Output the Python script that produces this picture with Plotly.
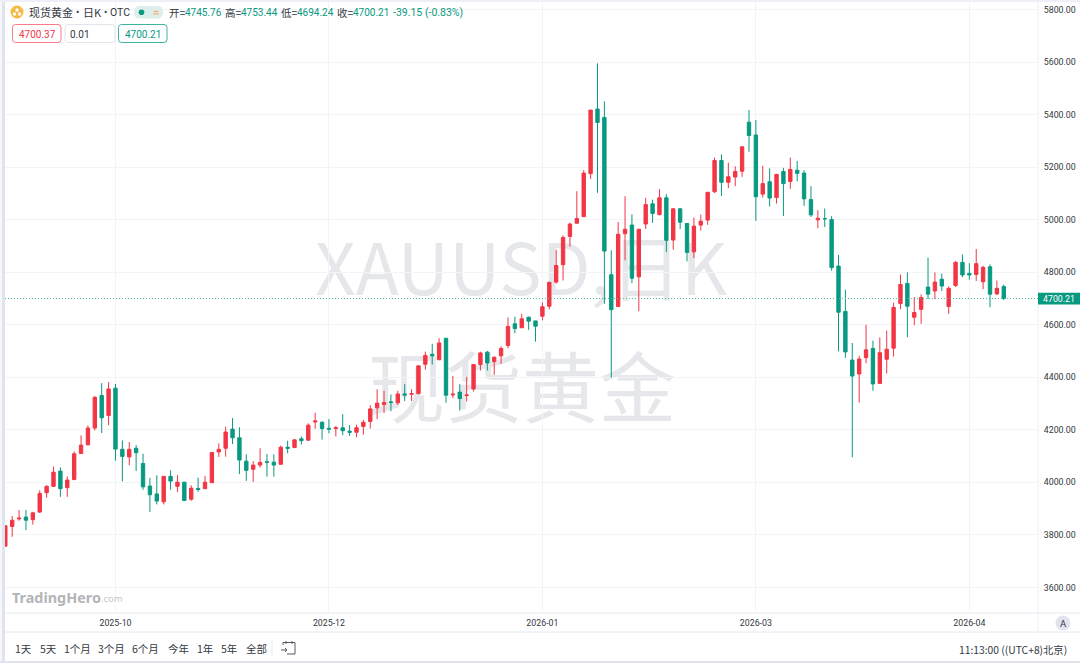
import plotly.graph_objects as go

W, H = 1080, 663

opens = [3757,3832,3861,3868,3858,3887,3961,3985,4043,3980,4011,4110,4143,4207,4331,4255,4359,4126,4097,4130,
         4072,3986,3956,3926,4023,3985,4001,3936,3977,3976,3999,4116,4130,4203,4170,4081,4050,4066,4079,4077,
         4069,4134,4133,4166,4161,4230,4229,4206,4205,4208,4195,4191,4213,4232,4284,4297,4307,4303,4337,4336,
         4338,4450,4488,4467,4549,4333,4344,4331,4356,4449,4496,4460,4482,4521,4604,4589,4629,4615,4633,4671,
         4763,4829,4937,4987,5012,5176,5422,5390,4791,4670,4947,4980,4783,4984,5061,5020,5084,4923,5042,4986,
         4878,4980,4999,5107,5226,5143,5163,5185,5372,5323,5098,5145,5085,5184,5146,5189,5178,5077,5000,5005,
         5001,4824,4651,4466,4413,4475,4510,4377,4469,4511,4681,4758,4629,4659,4744,4729,4774,4670,4750,4838,
         4796,4792,4764,4821,4718,4745.76]
closes = [3835,3856,3864,3856,3884,3958,3985,4039,3976,4009,4109,4142,4207,4324,4246,4356,4127,4099,4126,4113,
          3983,3953,3929,4023,4005,4001,3931,3978,3973,4001,4114,4126,4192,4170,4085,4046,4066,4076,4077,4066,
          4134,4130,4162,4159,4218,4234,4205,4203,4208,4197,4191,4208,4229,4280,4302,4304,4304,4337,4333,4338,
          4444,4484,4482,4531,4332,4336,4319,4333,4449,4493,4455,4477,4510,4594,4586,4623,4614,4595,4669,4762,
          4826,4933,4984,5005,5178,5418,5371,4881,4658,4945,4964,4778,4964,5058,5024,5084,4922,5042,4991,4876,
          4976,4995,5105,5226,5143,5164,5184,5278,5321,5088,5138,5083,5173,5138,5192,5177,5080,5019,5006,5004,
          4818,4648,4497,4405,4470,4505,4375,4494,4507,4666,4754,4671,4647,4704,4717,4763,4748,4739,4838,4790,
          4790,4833,4819,4717,4739,4700.21]
highs = [3835,3872,3895,3895,3888,3970,3989,4060,4057,4023,4118,4179,4217,4329,4378,4382,4375,4160,4154,4142,
         4109,4017,4027,4023,4046,4028,4001,3989,4018,4025,4114,4149,4212,4245,4210,4107,4081,4130,4108,4107,
         4140,4159,4164,4175,4225,4265,4233,4241,4215,4260,4218,4220,4238,4294,4355,4349,4335,4349,4374,4355,
         4444,4498,4528,4549,4549,4406,4374,4402,4449,4498,4501,4479,4518,4628,4631,4642,4632,4615,4686,4764,
         4886,4941,4989,5109,5189,5418,5596,5451,4884,4992,5090,5021,4966,5084,5077,5117,5098,5044,5044,4988,
         5009,5020,5105,5237,5249,5218,5204,5281,5418,5380,5206,5196,5175,5198,5237,5224,5189,5128,5037,5043,
         5014,4866,4734,4531,4482,4600,4540,4552,4578,4685,4792,4800,4706,4716,4856,4800,4795,4746,4843,4868,
         4835,4889,4825,4830,4769,4753.44]
lows = [3757,3793,3854,3818,3839,3884,3942,3982,3945,3945,4008,4109,4141,4198,4188,4218,4083,4004,4065,4043,
        3972,3887,3916,3916,3972,3963,3931,3930,3964,3976,3999,4097,4098,4146,4032,4006,4002,4056,4022,4022,
        4069,4111,4130,4144,4158,4204,4163,4187,4175,4180,4177,4172,4182,4205,4241,4264,4271,4295,4310,4310,
        4336,4429,4449,4467,4303,4321,4274,4308,4346,4426,4426,4410,4451,4511,4568,4589,4581,4536,4617,4659,
        4757,4769,4898,4987,5011,5156,5103,4680,4399,4670,4846,4759,4652,4965,4988,5017,4877,4886,4965,4842,
        4854,4959,4981,5102,5091,5121,5128,5164,5259,4996,5085,5051,5062,5015,5118,5147,5053,5011,4968,4973,
        4806,4499,4474,4095,4304,4454,4349,4375,4415,4479,4660,4553,4599,4604,4698,4698,4729,4642,4744,4782,
        4772,4767,4736,4667,4713,4694.24]
candle_index = list(range(len(opens)))

price_ticks = [3600, 3800, 4000, 4200, 4400, 4600, 4800, 5000, 5200, 5400, 5600, 5800]
time_tick_index = [16, 47, 78, 109, 140]
time_tick_labels = ["2025-10", "2025-12", "2026-01", "2026-03", "2026-04"]
range_buttons = ["1天", "5天", "1个月", "3个月", "6个月", "今年", "1年", "5年", "全部"]
range_button_x = [23, 48, 77, 111, 145, 178, 205, 229, 256]

RED, GREEN, GREY = "#f23645", "#089981", "#e1e4ef"
TXT = "#333842"
FONT = "Roboto, Noto Sans, Noto Sans CJK SC, sans-serif"
CJK = "Noto Sans CJK SC, Noto Sans, sans-serif"

PL, PR, PB = 5, 1038, 613
SPACING = 6.886
fx = lambda x: x / W
fy = lambda y: 1 - y / H
P = lambda x, y: f"{fx(x):.5f} {fy(y):.5f}"


def rrect(x0, y0, x1, y1, r):
    return (f"M {P(x0+r,y0)} L {P(x1-r,y0)} Q {P(x1,y0)} {P(x1,y0+r)} L {P(x1,y1-r)} Q {P(x1,y1)} {P(x1-r,y1)} "
            f"L {P(x0+r,y1)} Q {P(x0,y1)} {P(x0,y1-r)} L {P(x0,y0+r)} Q {P(x0,y0)} {P(x0+r,y0)} Z")


shapes, annotations = [], []


def rect(x0, y0, x1, y1, fill, layer="above"):
    shapes.append(dict(type="rect", xref="paper", yref="paper", x0=fx(x0), x1=fx(x1), y0=fy(y1), y1=fy(y0),
                       fillcolor=fill, line_width=0, layer=layer))


def path(d, fill="rgba(0,0,0,0)", line="rgba(0,0,0,0)", lw=1):
    shapes.append(dict(type="path", xref="paper", yref="paper", path=d, fillcolor=fill,
                       line=dict(color=line, width=lw), layer="above"))


def hline(x0, y0, x1, y1, color, lw=1):
    shapes.append(dict(type="line", xref="paper", yref="paper", x0=fx(x0), x1=fx(x1), y0=fy(y0), y1=fy(y1),
                       line=dict(color=color, width=lw), layer="above"))


def circle(cx, cy, r, fill):
    shapes.append(dict(type="circle", xref="paper", yref="paper", x0=fx(cx - r), x1=fx(cx + r), y0=fy(cy + r),
                       y1=fy(cy - r), fillcolor=fill, line_width=0, layer="above"))


def text(x, y, s, size=11, color=TXT, anchor="left", font=CJK):
    annotations.append(dict(xref="paper", yref="paper", x=fx(x), y=fy(y), text=s, showarrow=False, xanchor=anchor,
                            yanchor="middle", borderpad=0, borderwidth=0,
                            font=dict(size=size, color=color, family=font)))


def watermark(cx, cy, s, size):
    shapes.append(dict(type="rect", xref="paper", yref="paper", x0=fx(cx - 300), x1=fx(cx + 300),
                       y0=fy(cy + 50), y1=fy(cy - 50), line_width=0, fillcolor="rgba(0,0,0,0)", layer="below",
                       label=dict(text=s, textposition="middle center",
                                  font=dict(size=size, color="#e6e7ea", family=CJK))))


# watermark behind the candles
watermark(521, 275, "XAUUSD,日K", 71)
watermark(522, 395, "现货黄金", 77)

# frame
rect(0, 0, 2, H, "#f6f7fb")
rect(2, 0, 5, H, GREY)
rect(0, 0, W, 2, "#eef0f7")
rect(0, 661, W, H, GREY)
hline(PR, 0, PR, 632, "#eceef4")
hline(5, PB, W, PB, "#e6e8f0")
hline(5, 632, W, 632, "#e6e8f0")
hline(272, 640, 272, 656, "#e6e8f0")

# header
circle(17, 12, 6.5, "#f4b942")
circle(14.5, 14, 1.7, "white")
circle(19.5, 14, 1.7, "white")
circle(17, 10, 1.7, "white")
text(29, 12, "现货黄金", 11)
text(77, 12, "•", 10, TXT, "center", FONT)
text(83, 12, "日K", 11)
text(105, 12, "•", 10, TXT, "center", FONT)
text(110, 12, "OTC", 10.5, TXT, "left", FONT)
path(rrect(134, 6, 163, 18.5, 6), fill="#dcefed")
circle(141.5, 12.3, 2.8, GREEN)
text(155.5, 12, "≈", 11, "#f7a35c", "center", FONT)
for lx, vx, lab, val in [(169, 185, "开=", "4745.76"), (225, 241, "高=", "4753.44"),
                         (281, 297, "低=", "4694.24"), (337, 353, "收=", "4700.21")]:
    text(lx, 12, lab, 10.5)
    text(vx, 12, val, 10, GREEN, "left", FONT)
text(393, 12, "-39.15 (-0.83%)", 10.5, GREEN, "left", FONT)
path(rrect(12.5, 24.5, 61, 42.5, 3), fill="white", line="#f77c86")
path(rrect(65, 24.5, 115, 42.5, 3), fill="white", line="#e3e5ea")
path(rrect(118.5, 24.5, 167, 42.5, 3), fill="white", line="#3fb3a2")
text(37, 34, "4700.37", 10, RED, "center", FONT)
text(70, 34.5, "0.01", 10, TXT, "left", FONT)
text(143, 34, "4700.21", 10, GREEN, "center", FONT)

# logo
text(12, 597, "<b>TradingHero</b>", 14.4, "#b3b5b8", "left", "Noto Sans, sans-serif")
text(101, 598.5, ".com", 9.5, "#c5c7ca", "left", "Noto Sans, sans-serif")

# last price line + tag
shapes.append(dict(type="line", xref="paper", yref="y", x0=fx(PL), x1=fx(PR), y0=closes[-1], y1=closes[-1],
                   line=dict(color="#4fb8a8", width=1, dash="1px,2px"), layer="above"))
rect(PR, 292.7, W, 304.5, GREEN)
annotations.append(dict(xref="paper", yref="y", x=fx(1059), y=closes[-1], text=f"{closes[-1]:.2f}", showarrow=False,
                        xanchor="center", yanchor="middle", font=dict(size=8.8, color="white", family=FONT)))

# bottom bars
for label, x in zip(range_buttons, range_button_x):
    text(x, 648, label, 10.5, TXT, "center")
path(f"M {P(283,645)} L {P(283,642.5)} L {P(295,642.5)} L {P(295,654)} L {P(287,654)} "
     f"M {P(286,641)} L {P(286,644)} M {P(292,641)} L {P(292,644)} M {P(281,650)} L {P(287,650)} "
     f"M {P(285,648)} L {P(287,650)} L {P(285,652)}", line="#555a66", lw=1)
text(1067, 649, "11:13:00 ((UTC+8)北京)", 10.3, TXT, "right")
circle(1063, 623, 7.5, GREY)
text(1063, 623, "A", 9.5, TXT, "center", FONT)

# axis ranges from the pixel layout of the reference
x_lo = (PL - 5.3) / SPACING
x_hi = (PR - 5.3) / SPACING
y_hi = 4000 + 482.4 * 3.8086
y_lo = 4000 - (PB - 482.4) * 3.8086

fig = go.Figure(go.Candlestick(
    x=candle_index, open=opens, high=highs, low=lows, close=closes,
    increasing=dict(line=dict(color=RED, width=1), fillcolor=RED),
    decreasing=dict(line=dict(color=GREEN, width=1), fillcolor=GREEN),
    whiskerwidth=0, showlegend=False,
))
fig.update_layout(
    width=W, height=H, margin=dict(l=0, r=0, t=0, b=0), autosize=False,
    paper_bgcolor="white", plot_bgcolor="white", showlegend=False,
    font=dict(family=FONT, color=TXT, size=10),
    shapes=shapes, annotations=annotations,
    xaxis=dict(domain=[fx(PL), fx(PR)], range=[x_lo, x_hi], rangeslider=dict(visible=False),
               tickmode="array", tickvals=time_tick_index, ticktext=time_tick_labels,
               showgrid=True, gridcolor="#f3f4f7", gridwidth=1, zeroline=False, showline=False,
               ticks="outside", ticklen=1, tickcolor="rgba(0,0,0,0)", tickfont=dict(size=8.8, color=TXT, family=FONT)),
    yaxis=dict(domain=[fy(PB), 1], range=[y_lo, y_hi], side="right", tickmode="array", tickvals=price_ticks,
               ticktext=[f"{v:.2f}" for v in price_ticks], showgrid=True, gridcolor="#f3f4f7", gridwidth=1,
               zeroline=False, showline=False, ticks="outside", ticklen=3, tickcolor="rgba(0,0,0,0)",
               tickfont=dict(size=8.8, color=TXT, family=FONT)),
)
fig.write_html("out.html", config=dict(displayModeBar=False),
               post_script="document.body.style.margin='0';document.body.style.overflow='hidden';")
